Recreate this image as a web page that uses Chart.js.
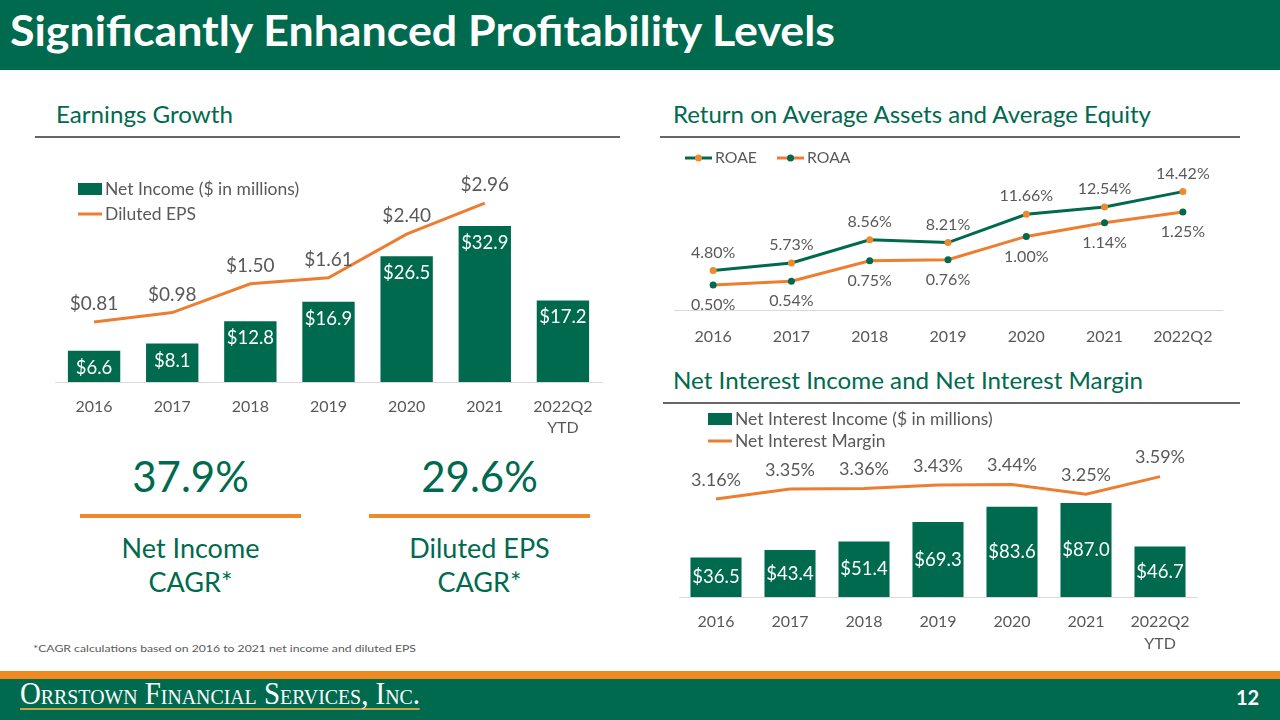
<!DOCTYPE html>
<html>
<head>
<meta charset="utf-8">
<script src="https://cdn.jsdelivr.net/npm/chart.js@4.4.0/dist/chart.umd.min.js"></script>
<style>
  body { margin: 0; width: 1280px; height: 720px; position: relative; overflow: hidden; background: #fff; font-family: Lato, "Open Sans", sans-serif; }
  .abs { position: absolute; }
  .fit { white-space: nowrap; transform-origin: left top; line-height: 1.2; }
  #titlebar { left: 0; top: 0; width: 1280px; height: 70px; background: #006A4E; }
  #title { left: 10px; top: 5px; color: #fff; font-weight: bold; font-size: 42px; }
  .head { color: #006A4E; font-size: 24px; }
  .rule { height: 2px; background: #666; }
  .big { color: #006A4E; font-size: 42px; text-align: center; line-height: 1.2; width: 221px; }
  .sub { color: #006A4E; font-size: 27px; text-align: center; line-height: 34px; width: 221px; }
  .orange { height: 4px; background: #EE8A2E; width: 221px; }
  #note { left: 33px; top: 642px; color: #595959; font-size: 10px; }
  #stripe { left: 0; top: 671px; width: 1280px; height: 8px; background: #F08A1E; }
  #footer { left: 0; top: 679px; width: 1280px; height: 41px; background: #006A4E; }
  #brand { left: 20px; top: 681px; color: #fff; font-family: "Liberation Serif", "DejaVu Serif", serif; font-size: 32px; font-variant: small-caps; border-bottom: 2px solid #C9A24A; line-height: 0.8; padding-bottom: 1px; }
  #page { left: 1236px; top: 685px; color: #fff; font-weight: bold; font-size: 20px; line-height: 1.2; }
  .chart { position: absolute; }
</style>
</head>
<body>
<div id="titlebar" class="abs"></div>
<div id="title" class="abs fit" data-w="825">Significantly Enhanced Profitability Levels</div>

<div class="abs fit head" style="left:56px;top:100px" data-w="177">Earnings Growth</div>
<div class="abs rule" style="left:35px;top:136px;width:585px"></div>
<div class="abs fit head" style="left:673px;top:100px" data-w="478">Return on Average Assets and Average Equity</div>
<div class="abs rule" style="left:660px;top:136px;width:580px"></div>
<div class="abs fit head" style="left:673px;top:366px" data-w="470">Net Interest Income and Net Interest Margin</div>
<div class="abs rule" style="left:663px;top:402px;width:577px"></div>

<div class="chart" style="left:40px;top:170px;width:590px;height:270px"><canvas id="earnings"></canvas></div>
<div class="chart" style="left:660px;top:145px;width:590px;height:215px"><canvas id="returns"></canvas></div>
<div class="chart" style="left:660px;top:405px;width:590px;height:255px"><canvas id="interest"></canvas></div>

<div class="abs big" style="left:80px;top:451px">37.9%</div>
<div class="abs orange" style="left:80px;top:514px"></div>
<div class="abs sub" style="left:80px;top:531px">Net Income<br>CAGR*</div>
<div class="abs big" style="left:369px;top:451px">29.6%</div>
<div class="abs orange" style="left:369px;top:514px"></div>
<div class="abs sub" style="left:369px;top:531px">Diluted EPS<br>CAGR*</div>

<div id="note" class="abs fit" data-w="383">*CAGR calculations based on 2016 to 2021 net income and diluted EPS</div>
<div id="stripe" class="abs"></div>
<div id="footer" class="abs"></div>
<div id="brand" class="abs fit" data-w="400">Orrstown Financial Services, Inc.</div>
<div id="page" class="abs">12</div>

<script>
// Chart values
const years = ["2016", "2017", "2018", "2019", "2020", "2021", ["2022Q2", "YTD"]];
const returnYears = ["2016", "2017", "2018", "2019", "2020", "2021", "2022Q2"];
const netIncome = [6.6, 8.1, 12.8, 16.9, 26.5, 32.9, 17.2];
const dilutedEps = [0.81, 0.98, 1.5, 1.61, 2.4, 2.96, null];
const roae = [4.8, 5.73, 8.56, 8.21, 11.66, 12.54, 14.42];
const roaa = [0.5, 0.54, 0.75, 0.76, 1.0, 1.14, 1.25];
const netInterestIncome = [36.5, 43.4, 51.4, 69.3, 83.6, 87.0, 46.7];
const netInterestMargin = [3.16, 3.35, 3.36, 3.43, 3.44, 3.25, 3.59];

const GREEN = "#006A4E";
const ORANGE = "#ED7D31";
const DOT_ORANGE = "#EE8A2E";
const GRAY = "#595959";
const FONT = "Lato, 'Open Sans', sans-serif";

// squeeze html text to the width it has in the slide
document.querySelectorAll(".fit[data-w]").forEach((el) => {
  const w = el.getBoundingClientRect().width;
  el.style.transform = `scaleX(${parseFloat(el.dataset.w) / w})`;
});

const money1 = (v) => "$" + v.toFixed(1);
const money2 = (v) => "$" + v.toFixed(2);
const pct = (v) => v.toFixed(2) + "%";

// value labels drawn next to each bar / point
const valueLabels = {
  id: "valueLabels",
  afterDatasetsDraw(chart) {
    const ctx = chart.ctx;
    chart.data.datasets.forEach((ds, i) => {
      const lab = ds.valueLabel;
      if (!lab) return;
      const meta = chart.getDatasetMeta(i);
      ctx.save();
      ctx.font = lab.font;
      ctx.fillStyle = lab.color;
      ctx.textAlign = "center";
      ctx.textBaseline = "middle";
      meta.data.forEach((el, j) => {
        const v = ds.data[j];
        if (v === null || v === undefined) return;
        let y;
        if (lab.pos === "insideEnd") y = el.y + lab.offset;
        else if (lab.pos === "center") y = (el.y + el.base) / 2;
        else if (lab.pos === "above") y = el.y - lab.offset;
        else y = el.y + lab.offset;
        ctx.fillText(lab.format(v), el.x, y);
      });
      ctx.restore();
    });
  },
};

// small legend drawn at a fixed spot of the canvas
function makeLegend(items) {
  return {
    id: "slideLegend",
    afterDraw(chart) {
      const ctx = chart.ctx;
      items.forEach((it) => {
        const ds = chart.data.datasets[it.ds];
        ctx.save();
        if (it.kind === "box") {
          ctx.fillStyle = ds.backgroundColor;
          ctx.fillRect(it.x, it.y - 6, 24, 12);
        } else {
          ctx.strokeStyle = ds.borderColor;
          ctx.lineWidth = 3;
          ctx.beginPath();
          ctx.moveTo(it.x, it.y);
          ctx.lineTo(it.x + it.w, it.y);
          ctx.stroke();
          if (it.dot) {
            ctx.fillStyle = ds.pointBackgroundColor;
            ctx.beginPath();
            ctx.arc(it.x + it.w / 2, it.y, 3.5, 0, Math.PI * 2);
            ctx.fill();
          }
        }
        ctx.fillStyle = GRAY;
        ctx.font = `${it.size || 15}px ${FONT}`;
        ctx.textAlign = "left";
        ctx.textBaseline = "middle";
        ctx.fillText(ds.label, it.x + (it.w || 24) + 3, it.y);
        ctx.restore();
      });
    },
  };
}

function xAxis(height, padding, lineHeight) {
  return {
    type: "category",
    offset: true,
    grid: { display: false, drawTicks: false },
    border: { display: true, color: "#D9D9D9", width: 1 },
    ticks: { color: GRAY, font: { family: FONT, size: 16, lineHeight }, padding, maxRotation: 0, autoSkip: false },
    afterFit(scale) {
      scale.height = height;
    },
  };
}

const hidden = (min, max) => ({ type: "linear", axis: "y", position: "left", display: false, min, max });

Chart.defaults.font.family = FONT;

// Earnings Growth
new Chart(document.getElementById("earnings"), {
  type: "bar",
  data: {
    labels: years,
    datasets: [
      {
        type: "line",
        label: "Diluted EPS",
        data: dilutedEps,
        yAxisID: "eps",
        borderColor: ORANGE,
        borderWidth: 3,
        pointRadius: 0,
        tension: 0,
        order: 0,
        valueLabel: { pos: "above", offset: 18, font: `19px ${FONT}`, color: GRAY, format: money2 },
      },
      {
        label: "Net Income ($ in millions)",
        data: netIncome,
        yAxisID: "y",
        backgroundColor: GREEN,
        categoryPercentage: 1,
        barPercentage: 0.67,
        order: 1,
        valueLabel: { pos: "insideEnd", offset: 17, font: `18.5px ${FONT}`, color: "#fff", format: money1 },
      },
    ],
  },
  options: {
    responsive: true,
    maintainAspectRatio: false,
    animation: false,
    layout: { padding: { left: 15, right: 28, top: 10, bottom: 0 } },
    plugins: { legend: { display: false }, tooltip: { enabled: false } },
    scales: {
      x: xAxis(58, 14.6, 1.3),
      y: hidden(0, 42.6),
      eps: hidden(-0.275, 3.378),
    },
  },
  plugins: [
    valueLabels,
    makeLegend([
      { ds: 1, kind: "box", x: 38, y: 19, size: 17.5 },
      { ds: 0, kind: "line", x: 38, y: 44, w: 24, size: 17.5 },
    ]),
  ],
});

// Return on Average Assets and Average Equity
new Chart(document.getElementById("returns"), {
  type: "line",
  data: {
    labels: returnYears,
    datasets: [
      {
        label: "ROAE",
        data: roae,
        yAxisID: "yRoae",
        borderColor: GREEN,
        borderWidth: 3,
        pointRadius: 3.5,
        pointBackgroundColor: DOT_ORANGE,
        pointBorderColor: DOT_ORANGE,
        pointBorderWidth: 0,
        tension: 0,
        valueLabel: { pos: "above", offset: 18, font: `16px ${FONT}`, color: GRAY, format: pct },
      },
      {
        label: "ROAA",
        data: roaa,
        yAxisID: "yRoaa",
        borderColor: ORANGE,
        borderWidth: 3,
        pointRadius: 3.5,
        pointBackgroundColor: GREEN,
        pointBorderColor: GREEN,
        pointBorderWidth: 0,
        tension: 0,
        valueLabel: { pos: "below", offset: 20, font: `16px ${FONT}`, color: GRAY, format: pct },
      },
    ],
  },
  options: {
    responsive: true,
    maintainAspectRatio: false,
    animation: false,
    layout: { padding: { left: 14, right: 28, top: 5, bottom: 0 } },
    plugins: { legend: { display: false }, tooltip: { enabled: false } },
    scales: {
      x: xAxis(50, 17.4, 1.2),
      yRoae: hidden(0, 19.49),
      yRoaa: hidden(0.244, 1.888),
    },
  },
  plugins: [
    valueLabels,
    makeLegend([
      { ds: 0, kind: "line", dot: true, x: 25, y: 13, w: 27, size: 15.8 },
      { ds: 1, kind: "line", dot: true, x: 117, y: 13, w: 27, size: 15.8 },
    ]),
  ],
});

// Net Interest Income and Net Interest Margin
new Chart(document.getElementById("interest"), {
  type: "bar",
  data: {
    labels: years,
    datasets: [
      {
        type: "line",
        label: "Net Interest Margin",
        data: netInterestMargin,
        yAxisID: "nim",
        borderColor: ORANGE,
        borderWidth: 3,
        pointRadius: 0,
        tension: 0,
        order: 0,
        valueLabel: { pos: "above", offset: 19, font: `18px ${FONT}`, color: GRAY, format: pct },
      },
      {
        label: "Net Interest Income ($ in millions)",
        data: netInterestIncome,
        yAxisID: "y",
        backgroundColor: GREEN,
        categoryPercentage: 1,
        barPercentage: 0.69,
        order: 1,
        valueLabel: { pos: "center", font: `18.5px ${FONT}`, color: "#fff", format: money1 },
      },
    ],
  },
  options: {
    responsive: true,
    maintainAspectRatio: false,
    animation: false,
    layout: { padding: { left: 19, right: 53, top: 50, bottom: 0 } },
    plugins: { legend: { display: false }, tooltip: { enabled: false } },
    scales: {
      x: xAxis(63, 14.2, 1.35),
      y: hidden(0, 131.4),
      nim: hidden(1.275, 4.006),
    },
  },
  plugins: [
    valueLabels,
    makeLegend([
      { ds: 1, kind: "box", x: 48, y: 14, size: 17.5 },
      { ds: 0, kind: "line", x: 48, y: 36, w: 24, size: 17.5 },
    ]),
  ],
});
</script>
</body>
</html>
